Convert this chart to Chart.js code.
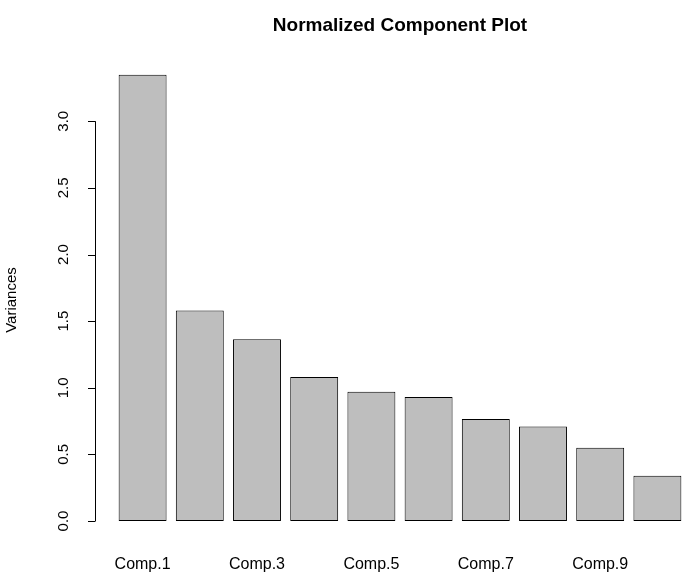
<!DOCTYPE html>
<html><head><meta charset="utf-8">
<script src="https://cdn.jsdelivr.net/npm/chart.js@4"></script>
<style>body{margin:0;background:#fff}</style>
</head><body>
<canvas id="c" width="691" height="580"></canvas>
<script>
var categories=["Comp.1","Comp.2","Comp.3","Comp.4","Comp.5","Comp.6","Comp.7","Comp.8","Comp.9","Comp.10"];
var variances=[3.35,1.58,1.365,1.08,0.97,0.93,0.765,0.71,0.55,0.34];
var yTicks=[0,0.5,1,1.5,2,2.5,3];
var titulo="Normalized Component Plot";

var ejes={
	id:"ejes",
	afterDraw:function(ch){
		var ctx=ch.ctx, y=ch.scales.y, x=ch.scales.x;
		ctx.save();
		ctx.fillStyle="#000";ctx.strokeStyle="#000";ctx.lineWidth=1;
		// y axis line + ticks
		ctx.beginPath();
		ctx.moveTo(95.5,y.getPixelForValue(0));ctx.lineTo(95.5,y.getPixelForValue(3));
		yTicks.forEach(function(t){
			var py=Math.round(y.getPixelForValue(t))+0.5;
			ctx.moveTo(95.5,py);ctx.lineTo(88,py);
		});
		ctx.stroke();
		ctx.font="15px 'Liberation Sans', Arial";
		ctx.textAlign="center";ctx.textBaseline="middle";
		yTicks.forEach(function(t){
			ctx.save();
			ctx.translate(64,y.getPixelForValue(t));ctx.rotate(-Math.PI/2);
			ctx.fillText(t.toFixed(1),0,0);
			ctx.restore();
		});
		// y title
		ctx.save();ctx.translate(12,300);ctx.rotate(-Math.PI/2);
		ctx.fillText("Variances",0,0);ctx.restore();
		// x labels (R skips every other one)
		ctx.font="16px 'Liberation Sans', Arial";
		categories.forEach(function(c,i){
			if(i%2===0) ctx.fillText(c,x.getPixelForValue(i),565);
		});
		// title
		ctx.font="bold 19px 'Liberation Sans', Arial";
		ctx.fillText(titulo,400,26);
		ctx.restore();
	}
};

new Chart(document.getElementById("c"),{
	type:"bar",
	data:{labels:categories,datasets:[{data:variances,backgroundColor:"#bebebe",borderColor:"#000",borderWidth:1,borderSkipped:false,categoryPercentage:0.838,barPercentage:1}]},
	options:{
		responsive:false,animation:false,
		layout:{padding:{left:114,right:5,top:52,bottom:59}},
		plugins:{legend:{display:false},tooltip:{enabled:false}},
		scales:{
			x:{display:false},
			y:{display:false,min:0,max:3.52}
		}
	},
	plugins:[ejes]
});
</script>
</body></html>
